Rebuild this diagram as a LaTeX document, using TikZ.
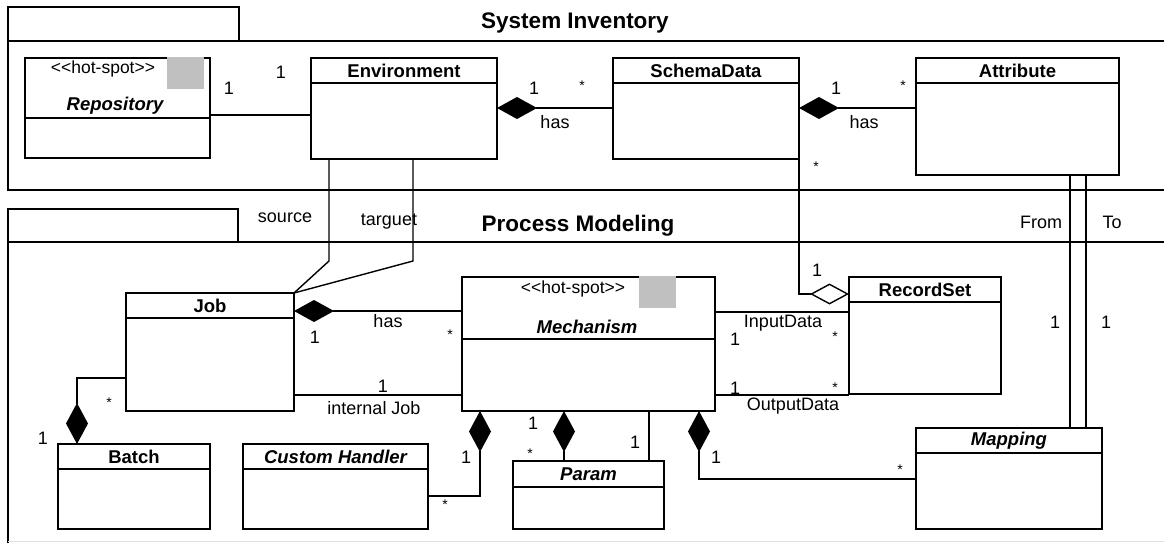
\documentclass[tikz,border=0pt]{standalone}
\usepackage{fontspec}
\setmainfont[Ligatures={NoCommon}]{Liberation Sans}
\usetikzlibrary{arrows.meta}
\definecolor{hsgray}{RGB}{192,192,192}
\begin{document}
\begin{tikzpicture}[x=1pt,y=-1pt,line width=1.4pt,
  box/.style={draw,rectangle,inner sep=0pt,outer sep=0pt,anchor=north west},
  tabbox/.style={draw,rectangle,inner sep=0pt,outer sep=0pt,anchor=north west},
  cname/.style={font=\fontsize{18.5}{20}\selectfont\bfseries,inner sep=0pt},
  cnamei/.style={font=\fontsize{18.5}{20}\selectfont\bfseries\itshape,inner sep=0pt},
  stereo/.style={font=\fontsize{17.5}{20}\selectfont,inner sep=0pt},
  lbl/.style={font=\fontsize{18}{20}\selectfont,inner sep=0pt},
  star/.style={font=\fontsize{14}{16}\selectfont,inner sep=0pt,anchor=north},
  ttl/.style={font=\fontsize{22.5}{26}\selectfont\bfseries,inner sep=0pt},
  compH/.style={{Diamond[length=40pt,width=22pt,fill=black]}-},
  compV/.style={{Diamond[length=41pt,width=22pt,fill=black]}-},
  agg/.style={{Diamond[open,length=39pt,width=21pt]}-}
]
\useasboundingbox (0,0) rectangle (1164,543);

% ---- frames ----
\node[tabbox,minimum width=231pt,minimum height=34pt] (tabA) at (8,7) {};
\draw (8,41) -- (1164,41);
\draw (1164,190) -- (8,190) -- (8,41);
\node[ttl] (titleA) at (575,23) {System Inventory};

\node[tabbox,minimum width=230pt,minimum height=33pt] (tabB) at (8,209) {};
\draw (8,242) -- (1164,242);
\draw (8,242) -- (8,543);
\draw[black!12,line width=1pt] (8,541.5) -- (1164,541.5);
\node[ttl] (titleB) at (578,226) {Process Modeling};

% ---- classes: System Inventory ----
\node[box,minimum width=185pt,minimum height=100pt] (repo) at (25,58) {};
\draw ([yshift=-60pt]repo.north west) -- ([yshift=-60pt]repo.north east);
\fill[hsgray] ([xshift=-43pt,yshift=0.7pt]repo.north east) rectangle ++(37,31.7);
\node[stereo] (repoS) at ([xshift=-14.5pt,yshift=-11pt]repo.north) {{<}{<}hot-spot{>}{>}};
\node[cnamei] (repoN) at ([xshift=-2.5pt,yshift=-48pt]repo.north) {Repository};

\node[box,minimum width=186pt,minimum height=101pt] (env) at (311,58) {};
\draw ([yshift=-25pt]env.north west) -- ([yshift=-25pt]env.north east);
\node[cname] (envN) at ([yshift=-13pt]env.north) {Environment};

\node[box,minimum width=186pt,minimum height=101pt] (schema) at (613,58) {};
\draw ([yshift=-25pt]schema.north west) -- ([yshift=-25pt]schema.north east);
\node[cname] (schemaN) at ([yshift=-13pt]schema.north) {SchemaData};

\node[box,minimum width=203pt,minimum height=117pt] (attr) at (916,58) {};
\draw ([yshift=-25pt]attr.north west) -- ([yshift=-25pt]attr.north east);
\node[cname] (attrN) at ([yshift=-13pt]attr.north) {Attribute};

% ---- classes: Process Modeling ----
\node[box,minimum width=168pt,minimum height=118pt] (job) at (126,293) {};
\draw ([yshift=-25pt]job.north west) -- ([yshift=-25pt]job.north east);
\node[cname] (jobN) at ([yshift=-13pt]job.north) {Job};

\node[box,minimum width=253pt,minimum height=134pt] (mech) at (462,277) {};
\draw ([yshift=-62pt]mech.north west) -- ([yshift=-62pt]mech.north east);
\fill[hsgray] ([xshift=-76pt,yshift=0.7pt]mech.north east) rectangle ++(37,31.7);
\node[stereo] (mechS) at ([xshift=-15.5pt,yshift=-12pt]mech.north) {{<}{<}hot-spot{>}{>}};
\node[cnamei] (mechN) at ([xshift=-1.5pt,yshift=-50pt]mech.north) {Mechanism};

\node[box,minimum width=152pt,minimum height=117pt] (rec) at (849,277) {};
\draw ([yshift=-25pt]rec.north west) -- ([yshift=-25pt]rec.north east);
\node[cname] (recN) at ([yshift=-13pt]rec.north) {RecordSet};

\node[box,minimum width=152pt,minimum height=85pt] (batch) at (58,444) {};
\draw ([yshift=-25pt]batch.north west) -- ([yshift=-25pt]batch.north east);
\node[cname] (batchN) at ([yshift=-13pt]batch.north) {Batch};

\node[box,minimum width=185pt,minimum height=85pt] (ch) at (243,444) {};
\draw ([yshift=-25pt]ch.north west) -- ([yshift=-25pt]ch.north east);
\node[cnamei] (chN) at ([yshift=-13pt]ch.north) {Custom Handler};

\node[box,minimum width=151pt,minimum height=68pt] (param) at (513,461) {};
\draw ([yshift=-26pt]param.north west) -- ([yshift=-26pt]param.north east);
\node[cnamei] (paramN) at ([yshift=-13pt]param.north) {Param};

\node[box,minimum width=186pt,minimum height=101pt] (map) at (916,428) {};
\draw ([yshift=-25pt]map.north west) -- ([yshift=-25pt]map.north east);
\node[cnamei] (mapN) at ([yshift=-13pt]map.north) {Mapping};

% ---- connectors ----
\draw ([yshift=-57pt]repo.north east) -- ([yshift=-57pt]env.north west);
\draw[compH] ([yshift=-50pt]env.north east) -- ([yshift=-50pt]schema.north west);
\draw[compH] ([yshift=-50pt]schema.north east) -- ([yshift=-50pt]attr.north west);
\draw ([xshift=18pt]env.south west) -- ++(0,102) -- (job.north east);
\draw ([xshift=102pt]env.south west) -- ++(0,102) -- (job.north east);
\draw[compH] ([yshift=-18pt]job.north east) -- ([yshift=-34pt]mech.north west);
\draw ([yshift=16pt]job.south east) -- ([yshift=16pt]mech.south west);
\draw[compV] ([xshift=19pt]batch.north west) |- ([yshift=-85pt]job.north west);
\draw[agg] ([yshift=-17pt]rec.north west) -| (schema.south east);
\draw ([yshift=-35pt]mech.north east) -- ([yshift=-35pt]rec.north west);
\draw ([yshift=-118pt]mech.north east) -- ([yshift=-118pt]rec.north west);
\draw ([xshift=154pt]attr.south west) -- ([xshift=154pt]map.north west);
\draw ([xshift=170pt]attr.south west) -- ([xshift=170pt]map.north west);
\draw[compV] ([xshift=18pt]mech.south west) |- ([yshift=33pt]ch.south east);
\draw[compV] ([xshift=102pt]mech.south west) -- ([xshift=51pt]param.north west);
\draw ([xshift=187pt]mech.south west) -- ([xshift=136pt]param.north west);
\draw[compV] ([xshift=237pt]mech.south west) |- ([yshift=50pt]map.south west);

% ---- labels ----
\node[lbl] (m1) at (229,88) {1};
\node[lbl] (m2) at (281,72) {1};
\node[lbl] (m3) at (534,88) {1};
\node[star] (m4) at (582,80) {*};
\node[lbl] (m5) at (555,122) {has};
\node[lbl] (m6) at (836,88) {1};
\node[star] (m7) at (903,80) {*};
\node[lbl] (m8) at (864,122) {has};
\node[star] (m9) at (816,161) {*};
\node[lbl] (m10) at (285,218) {source};
\node[lbl] (m11) at (389,222) {targuet};
\node[lbl] (m12) at (1041,222) {From};
\node[lbl] (m13) at (1112,222) {To};
\node[lbl] (m14) at (817,270) {1};
\node[lbl] (m15) at (388,321) {has};
\node[lbl] (m16) at (315,337) {1};
\node[star] (m17) at (450,329) {*};
\node[lbl] (m18) at (383,386) {1};
\node[lbl] (m19) at (374,408) {internal Job};
\node[star] (m20) at (109,397) {*};
\node[lbl] (m21) at (43,438) {1};
\node[lbl] (m22) at (783,323) {InputData};
\node[lbl] (m23) at (735,339) {1};
\node[star] (m24) at (835,331) {*};
\node[lbl] (m25) at (735,388) {1};
\node[star] (m26) at (835,382) {*};
\node[lbl] (m27) at (793,406) {OutputData};
\node[lbl] (m28) at (1055,322) {1};
\node[lbl] (m29) at (1106,322) {1};
\node[lbl] (m30) at (466,457) {1};
\node[star] (m31) at (445,499) {*};
\node[lbl] (m32) at (533,423) {1};
\node[star] (m33) at (530,448) {*};
\node[lbl] (m34) at (635,442) {1};
\node[lbl] (m35) at (716,457) {1};
\node[star] (m36) at (900,464) {*};
\end{tikzpicture}
\end{document}
